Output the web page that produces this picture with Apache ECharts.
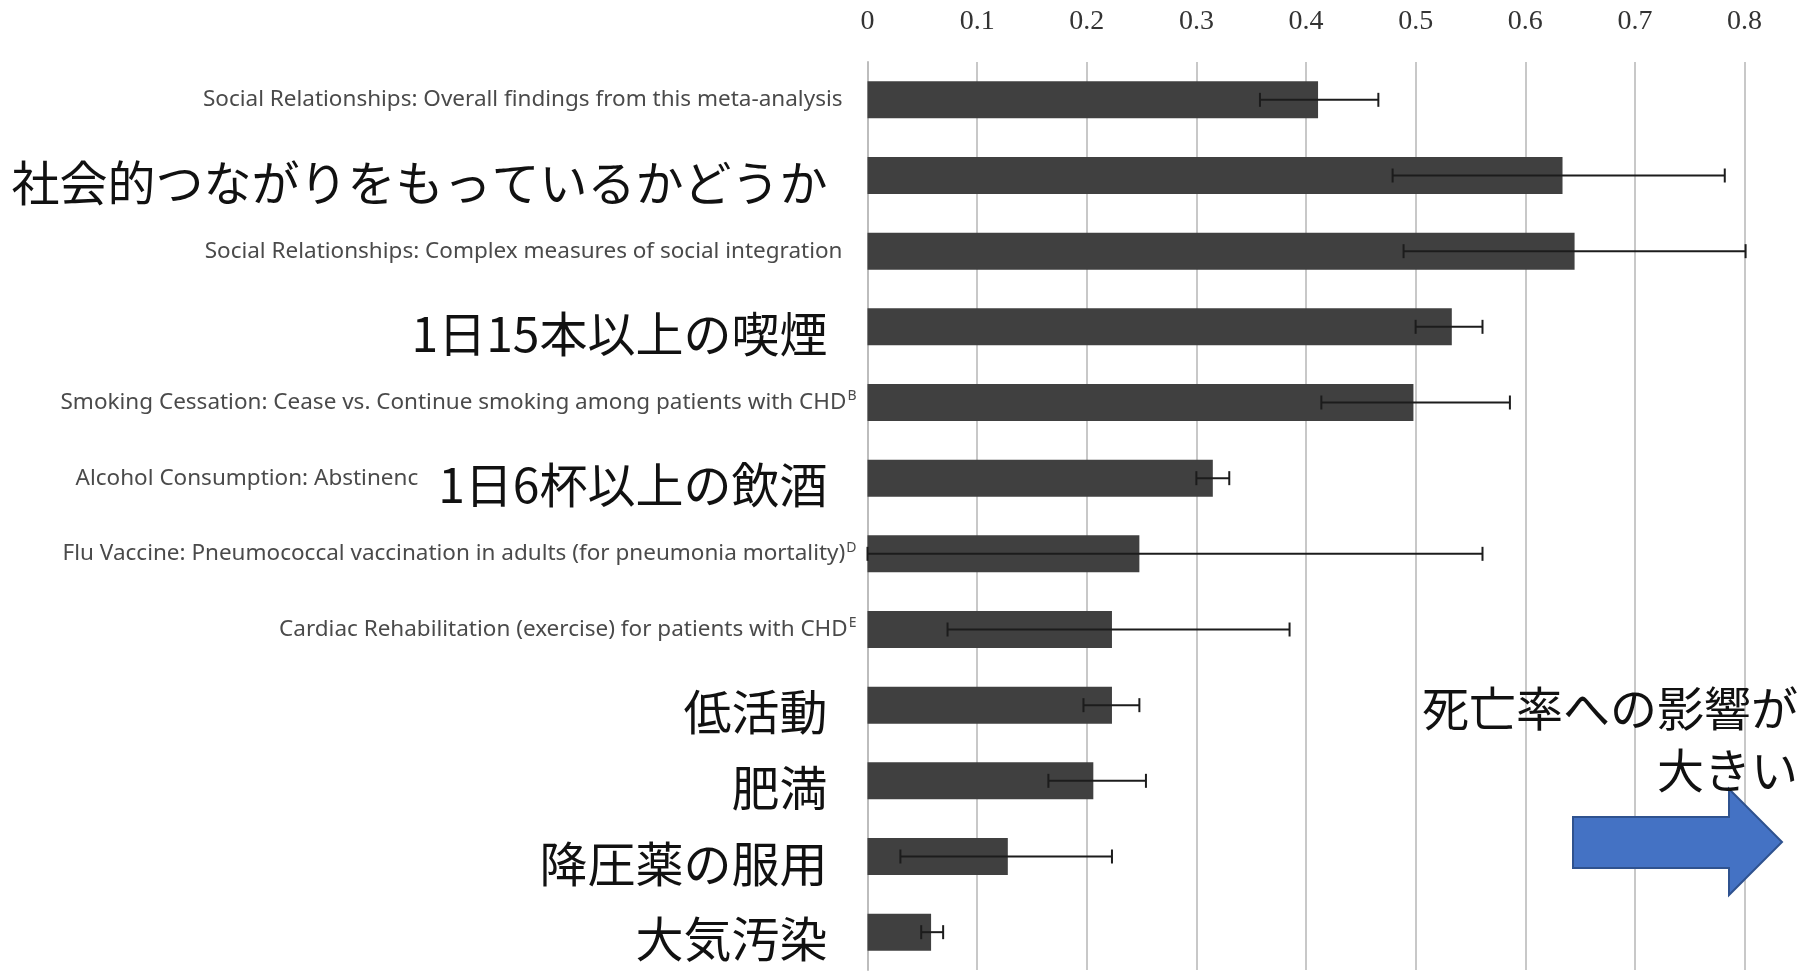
<!DOCTYPE html>
<html>
<head>
<meta charset="utf-8">
<script src="https://cdn.jsdelivr.net/npm/echarts@6/dist/echarts.min.js"></script>
<style>
html,body{margin:0;padding:0;background:#fff;}
#c{width:1809px;height:972px;}
</style>
</head>
<body>
<div id="c"></div>
<script>
// English labels (partially covered in the original slide), Japanese overlay labels, superscripts
const enLabels = [
  'Social Relationships: Overall findings from this meta-analysis',
  '',
  'Social Relationships: Complex measures of social integration',
  '',
  'Smoking Cessation: Cease vs. Continue smoking among patients with CHD',
  'Alcohol Consumption: Abstinenc',
  'Flu Vaccine: Pneumococcal vaccination in adults (for pneumonia mortality)',
  'Cardiac Rehabilitation (exercise) for patients with CHD',
  '', '', '', ''
];
const jaLabels = [
  '', '社会的つながりをもっているかどうか', '', '1日15本以上の喫煙', '', '1日6杯以上の飲酒',
  '', '', '低活動', '肥満', '降圧薬の服用', '大気汚染'
];
const supLabels = ['', '', '', '', 'B', '', 'D', 'E', '', '', '', ''];
const categories = enLabels.map((e, i) => jaLabels[i] || e);

const barValues = [0.411, 0.634, 0.645, 0.533, 0.498, 0.315, 0.248, 0.223, 0.223, 0.206, 0.128, 0.058];
const errLow    = [0.358, 0.479, 0.489, 0.500, 0.414, 0.300, 0.000, 0.073, 0.197, 0.165, 0.030, 0.049];
const errHigh   = [0.466, 0.782, 0.801, 0.561, 0.586, 0.330, 0.561, 0.385, 0.248, 0.254, 0.223, 0.069];

const noteLine1 = '死亡率への影響が';
const noteLine2 = '大きい';

function buildLabel(i) {
  const en = enLabels[i], ja = jaLabels[i], sup = supLabels[i];
  let s = '';
  if (en) s += '{en|' + en + '}';
  if (en && ja) s += '{gap| }';
  if (ja) s += '{ja|' + ja + '}{jpad| }';
  else if (sup) s += '{sup|' + sup + '}';
  else s += '{pad| }';
  return s;
}

const enFont = "'Noto Sans',sans-serif";
const jaFont = "'Noto Sans CJK JP',sans-serif";

const chart = echarts.init(document.getElementById('c'), null, {renderer: 'canvas'});
chart.setOption({
  animation: false,
  backgroundColor: '#ffffff',
  grid: {left: 867.5, right: 64.5, top: 62, bottom: 2, containLabel: false},
  xAxis: {
    type: 'value', position: 'top', min: 0, max: 0.8, interval: 0.1,
    axisLine: {show: false}, axisTick: {show: false},
    splitLine: {show: true, lineStyle: {color: '#c8c8c8', width: 2}},
    axisLabel: {fontFamily: "'Liberation Serif',serif", fontSize: 28, color: '#333', margin: 26}
  },
  yAxis: {
    type: 'category', inverse: true, data: categories,
    axisLine: {show: true, lineStyle: {color: '#bdbdbd', width: 2}},
    axisTick: {show: false},
    axisLabel: {
      interval: 0, margin: 11,
      formatter: (v, i) => buildLabel(i),
      rich: {
        en: {fontFamily: enFont, fontSize: 22.5, color: '#4a4a4a'},
        sup: {fontFamily: enFont, fontSize: 14, color: '#4a4a4a', verticalAlign: 'top', padding: [0, 0, 12, 1]},
        ja: {fontFamily: jaFont, fontSize: 48, color: '#111', padding: [14, 0, 0, 0]},
        pad: {width: 14},
        jpad: {width: 29},
        gap: {width: 20}
      }
    }
  },
  series: [
    {
      type: 'bar', data: barValues, barWidth: 37,
      itemStyle: {color: '#404040'}, z: 2
    },
    {
      type: 'custom', z: 3,
      data: errLow.map((l, i) => [l, errHigh[i], i]),
      encode: {x: [0, 1], y: 2},
      renderItem: function (params, api) {
        const cat = api.value(2);
        const lo = api.coord([api.value(0), cat]);
        const hi = api.coord([api.value(1), cat]);
        const cap = 7;
        const st = {stroke: '#1c1c1c', lineWidth: 2};
        return {
          type: 'group',
          children: [
            {type: 'line', shape: {x1: lo[0], y1: lo[1], x2: hi[0], y2: hi[1]}, style: st},
            {type: 'line', shape: {x1: lo[0], y1: lo[1] - cap, x2: lo[0], y2: lo[1] + cap}, style: st},
            {type: 'line', shape: {x1: hi[0], y1: hi[1] - cap, x2: hi[0], y2: hi[1] + cap}, style: st}
          ]
        };
      }
    }
  ],
  graphic: [
    {
      type: 'polygon', z: 10,
      shape: {points: [[1573, 817], [1729, 817], [1729, 789], [1782, 842], [1729, 895], [1729, 868], [1573, 868]]},
      style: {fill: '#4472C4', stroke: '#2F528F', lineWidth: 2}
    },
    {
      type: 'text', z: 10, x: 1798, y: 708,
      style: {text: noteLine1, fontFamily: jaFont, fontSize: 47, fill: '#111', align: 'right', verticalAlign: 'middle'}
    },
    {
      type: 'text', z: 10, x: 1798, y: 770,
      style: {text: noteLine2, fontFamily: jaFont, fontSize: 47, fill: '#111', align: 'right', verticalAlign: 'middle'}
    }
  ]
});
</script>
</body>
</html>
